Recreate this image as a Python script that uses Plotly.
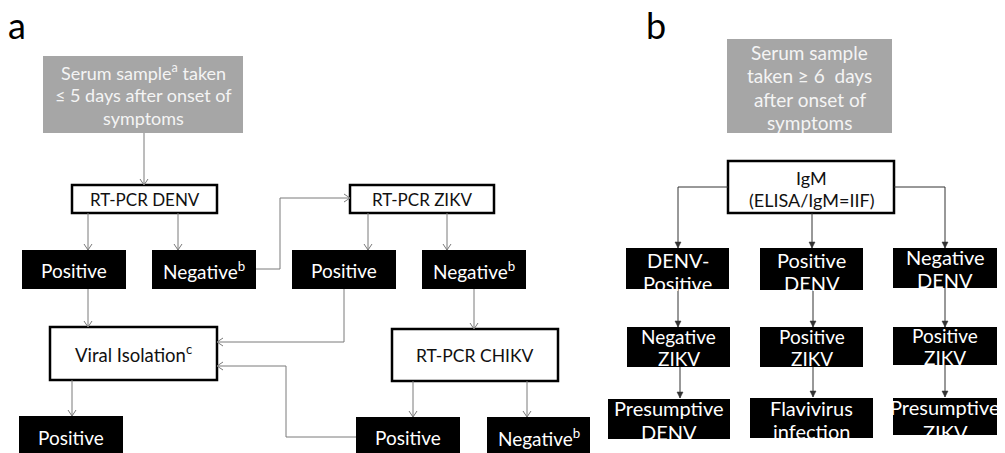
import plotly.graph_objects as go

# ---------------- data: panel labels and node texts ----------------
panel_labels = ["a", "b"]

a_gray_text = ["Serum sample<sup>a</sup> taken<br>≤ 5 days after onset of<br>symptoms"]
a_white_text = ["RT-PCR DENV", "RT-PCR ZIKV", "Viral Isolation<sup>c</sup>", "RT-PCR CHIKV"]
a_black_text = ["Positive", "Negative<sup>b</sup>", "Positive", "Negative<sup>b</sup>",
                "Positive", "Positive", "Negative<sup>b</sup>"]

b_gray_text = ["Serum sample<br>taken ≥ 6  days<br>after onset of<br>symptoms"]
b_white_text = ["IgM<br>(ELISA/IgM=IIF)"]
b_black_text = ["DENV-<br>Positive", "Positive<br>DENV", "Negative<br>DENV",
                "Negative<br>ZIKV", "Positive<br>ZIKV", "Positive<br>ZIKV",
                "Presumptive<br>DENV", "Flavivirus<br>infection", "Presumptive<br>ZIKV"]

# ---------------- layout geometry (pixel space) ----------------
W, H = 1005, 453
FONT = "Lato"

# boxes: (x0, x1, y0, y1); text: (first line y, line step, font size)
a_gray_box = [(43, 243, 56, 133)]
a_gray_ty = [(72, 23, 18)]
a_white_box = [(72, 217, 185, 213), (350, 494, 185, 213), (50, 217, 327, 380), (392, 558, 329, 381)]
a_white_ty = [(199, 0, 17), (199, 0, 17), (353, 0, 18.5), (355, 0, 17.5)]
a_black_box = [(22, 126, 250, 289), (152, 256, 250, 289), (292, 396, 250, 289), (422, 526, 250, 289),
               (19, 123, 416, 470), (356, 460, 417, 470), (487, 590, 417, 470)]
a_black_ty = [(270, 0, 19)] * 4 + [(437, 0, 19)] * 3

b_gray_box = [(727, 892, 39, 133)]
b_gray_ty = [(52, 23.6, 19)]
b_white_box = [(728, 894, 161, 213)]
b_white_ty = [(178, 22, 18)]
b_black_box = [(626, 729, 248, 289), (760, 863, 248, 290), (893, 997, 248, 288),
               (627, 730, 327, 367), (760, 863, 327, 367), (893, 997, 327, 365),
               (608, 730, 399, 439), (750, 873, 398, 438), (893, 997, 398, 435)]
b_black_ty = [(260, 23, 20), (260, 23, 20), (257, 23, 20),
              (336, 22, 19), (336, 22, 19), (335, 22, 19),
              (408, 24, 20), (408, 23, 20), (407, 25, 20)]

# connectors: list of polylines (last point carries the arrow head)
a_links = [
    [(144, 133), (144, 185)],
    [(88, 213), (88, 250)],
    [(178, 213), (178, 250)],
    [(256, 269), (280, 269), (280, 198), (350, 198)],
    [(368, 213), (368, 250)],
    [(447, 213), (447, 250)],
    [(88, 289), (88, 327)],
    [(344, 289), (344, 342), (217, 342)],
    [(474, 289), (474, 329)],
    [(72, 380), (72, 416)],
    [(413, 381), (413, 417)],
    [(527, 381), (527, 417)],
    [(356, 437), (286, 437), (286, 366), (217, 366)],
]
b_links = [
    [(728, 187), (678, 187), (678, 248)],
    [(812, 213), (812, 248)],
    [(894, 187), (945, 187), (945, 248)],
    [(678, 289), (678, 327)],
    [(813, 290), (813, 327)],
    [(945, 288), (945, 327)],
    [(680, 367), (680, 398)],
    [(813, 367), (813, 397)],
    [(945, 365), (945, 397)],
]

fig = go.Figure()
shapes = []
annotations = []


def box(b, fill, border, bw):
    x0, x1, y0, y1 = b
    shapes.append(dict(type="rect", xref="x", yref="y", x0=x0, x1=x1, y0=y0, y1=y1,
                       fillcolor=fill, line=dict(color=border, width=bw), layer="below"))


def label(x, y, text, size, color):
    annotations.append(dict(x=x, y=y, xref="x", yref="y", text=text, showarrow=False,
                            xanchor="center", yanchor="middle", borderpad=0,
                            font=dict(family=FONT, size=size, color=color)))


def lines(x, ty, text, color):
    y0, step, size = ty
    for i, part in enumerate(text.split("<br>")):
        label(x, y0 + i * step, part, size, color)


def link(pts, color, style):
    path = "M " + " L ".join(f"{x},{y}" for x, y in pts)
    shapes.append(dict(type="path", xref="x", yref="y", path=path,
                       line=dict(color=color, width=1)))
    (x0, y0), (x1, y1) = pts[-2], pts[-1]
    dx, dy = x1 - x0, y1 - y0
    n = (dx * dx + dy * dy) ** 0.5
    ux, uy = dx / n, dy / n          # direction
    px, py = -uy, ux                 # perpendicular
    if style == "open":
        L, Wd = 6, 4
        p1 = (x1 - ux * L + px * Wd, y1 - uy * L + py * Wd)
        p2 = (x1 - ux * L - px * Wd, y1 - uy * L - py * Wd)
        hp = f"M {p1[0]},{p1[1]} L {x1},{y1} L {p2[0]},{p2[1]}"
        shapes.append(dict(type="path", xref="x", yref="y", path=hp,
                           line=dict(color=color, width=1)))
    else:
        L, Wd = 6, 3
        p1 = (x1 - ux * L + px * Wd, y1 - uy * L + py * Wd)
        p2 = (x1 - ux * L - px * Wd, y1 - uy * L - py * Wd)
        hp = f"M {p1[0]},{p1[1]} L {x1},{y1} L {p2[0]},{p2[1]} Z"
        shapes.append(dict(type="path", xref="x", yref="y", path=hp, fillcolor=color,
                           line=dict(color=color, width=0.5)))


# panel a
for b, t, ty in zip(a_gray_box, a_gray_text, a_gray_ty):
    box(b, "#a6a6a6", "#a6a6a6", 0)
    lines((b[0] + b[1]) / 2, ty, t, "#f4f4f4")
for b, t, ty in zip(a_white_box, a_white_text, a_white_ty):
    box(b, "white", "black", 2.5)
    lines((b[0] + b[1]) / 2, ty, t, "#111111")
for b, t, ty in zip(a_black_box, a_black_text, a_black_ty):
    box(b, "black", "black", 0)
    lines((b[0] + b[1]) / 2, ty, t, "white")
for pts in a_links:
    link(pts, "#7a7a7a", "open")

# panel b
for b, t, ty in zip(b_gray_box, b_gray_text, b_gray_ty):
    box(b, "#a6a6a6", "#a6a6a6", 0)
    lines((b[0] + b[1]) / 2, ty, t, "#f4f4f4")
for b, t, ty in zip(b_white_box, b_white_text, b_white_ty):
    box(b, "white", "black", 2.5)
    lines((b[0] + b[1]) / 2, ty, t, "#111111")
for b, t, ty in zip(b_black_box, b_black_text, b_black_ty):
    box(b, "black", "black", 0)
    lines((b[0] + b[1]) / 2, ty, t, "white")
for pts in b_links:
    link(pts, "#333333", "filled")

# panel letters
label(17, 25, panel_labels[0], 36, "black")
label(656, 25, panel_labels[1], 36, "black")

fig.update_layout(
    width=W, height=H,
    margin=dict(l=0, r=0, t=0, b=0),
    paper_bgcolor="white", plot_bgcolor="white",
    xaxis=dict(range=[0, W], visible=False, fixedrange=True),
    yaxis=dict(range=[H, 0], visible=False, fixedrange=True),
    shapes=shapes, annotations=annotations, showlegend=False,
)
fig.write_html("out.html", config={"displayModeBar": False},
               post_script="document.body.style.margin='0';document.body.style.overflow='hidden';")
